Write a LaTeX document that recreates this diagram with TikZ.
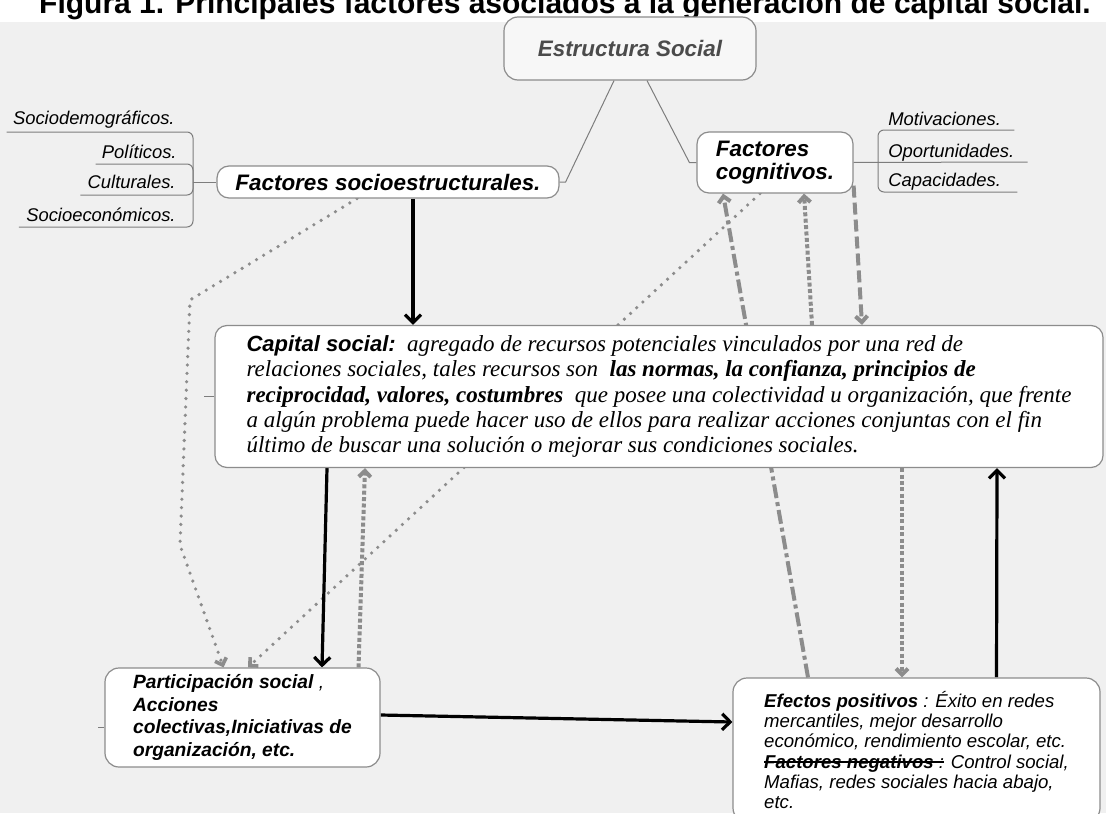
\documentclass[tikz,border=0pt]{standalone}
\usepackage{fontspec}
\setmainfont{Liberation Sans}
\setsansfont{Liberation Sans}
\newfontfamily\csfont{Liberation Serif}
\usetikzlibrary{arrows.meta,calc,positioning,backgrounds}

\definecolor{bgcol}{RGB}{240,240,240}
\definecolor{esfill}{RGB}{247,247,247}
\definecolor{boxline}{RGB}{140,140,140}
\definecolor{linkgray}{RGB}{125,125,125}
\definecolor{arrgray}{RGB}{140,140,140}
\definecolor{estext}{RGB}{75,75,75}

% struck-through text
\newlength\strklen
\newcommand\strk[1]{\settowidth{\strklen}{#1}\rlap{\raisebox{0.3em}{\rule{\strklen}{0.7pt}}}#1}

\begin{document}
\begin{tikzpicture}[x=0.5pt,y=-0.5pt,
		box/.style={draw=boxline, fill=white, rounded corners=6pt, line width=0.6pt, inner sep=0pt},
		head/.style={font=\fontsize{11.2}{11.5}\selectfont\bfseries\itshape},
		item/.style={inner sep=0pt, font=\fontsize{9.2}{11}\selectfont\itshape},
		branch/.style={draw=linkgray, line width=0.5pt},
		blk/.style={-{Straight Barb[length=4pt,width=8pt]}, line width=1.6pt},
		dotg/.style={-{Straight Barb[length=3pt,width=6pt]}, draw=arrgray, line width=1.8pt, line cap=round, dash pattern=on 0pt off 4.2pt},
		sqdot/.style={-{Straight Barb[length=3pt,width=6pt]}, draw=arrgray, line width=2pt, dash pattern=on 2pt off 1.2pt},
		dsh/.style={-{Straight Barb[length=3pt,width=6pt]}, draw=arrgray, line width=2pt, dash pattern=on 6pt off 2.5pt},
		dshdot/.style={-{Straight Barb[length=3pt,width=6pt]}, draw=arrgray, line width=2pt, dash pattern=on 7pt off 2pt on 2pt off 2pt}
		]
		\useasboundingbox (0,0) rectangle (1106,813);
		
		% Title (cut at the top)
		\node[font=\fontsize{15}{17}\selectfont\bfseries, anchor=base, inner sep=0pt] (ttl) at (565,14) {Figura 1. Principales factores asociados a la generación de capital social.};
		
		% Main boxes
		\node[box, head, fill=esfill, text=estext, rounded corners=7pt, minimum width=126pt, minimum height=31.5pt] (es) at (630,48.5) {Estructura Social};
		\node[box, head, minimum width=171pt, minimum height=16pt] (fse) at (388,182) {Factores socioestructurales.};
		\node[box, head, align=left, minimum width=78pt, minimum height=30.5pt] (fc) at (775,162.5) {Factores\\cognitivos.};
		\node[box, align=left, font=\csfont\itshape\fontsize{11.5}{12.7}\selectfont, minimum width=444pt, minimum height=71pt] (cs) at (659,396.5) {{\sffamily\bfseries\fontsize{11}{12.7}\selectfont Capital social:}\ \ agregado de recursos potenciales vinculados por una red de\\
			relaciones sociales, tales recursos son \ \textbf{las normas, la confianza, principios de}\\
			\textbf{reciprocidad, valores, costumbres} \ que posee una colectividad u organización, que frente\\
			a algún problema puede hacer uso de ellos para realizar acciones conjuntas con el fin\\
			último de buscar una solución o mejorar sus condiciones sociales.};
		\node[box, align=left, rounded corners=7pt, font=\fontsize{9.6}{11.2}\selectfont\bfseries\itshape, minimum width=137.5pt, minimum height=49.5pt] (ps) at (242.5,717.5) {Participación social {\mdseries ,}\\Acciones\\colectivas,Iniciativas de\\organización, etc.};
		\node[box, align=left, rounded corners=7pt, font=\fontsize{9.3}{10.1}\selectfont\itshape, minimum width=183.5pt, minimum height=72pt] (ef) at (916.5,750) {\textbf{Efectos positivos} : Éxito en redes\\mercantiles, mejor desarrollo\\económico, rendimiento escolar, etc.\\\strk{\textbf{Factores negativos} :} Control social,\\Mafias, redes sociales hacia abajo,\\etc.};
		
		% Sub-factors
		\node[item, anchor=base east] (sd) at (175,125) {Sociodemográficos.};
		\node[item, anchor=base east] (po) at (177,158) {Políticos.};
		\node[item, anchor=base east] (cu) at (176,188) {Culturales.};
		\node[item, anchor=base east] (so) at (176,221) {Socioeconómicos.};
		\node[item, anchor=base west] (mo) at (888,126) {Motivaciones.};
		\node[item, anchor=base west] (op) at (888,157) {Oportunidades.};
		\node[item, anchor=base west] (ca) at (888,186) {Capacidades.};
		\coordinate (lj) at (193,182);
		\coordinate (rj) at (878,162);
		
		% Branches
		\draw[branch, rounded corners=3pt] ($(sd.base west)+(-6,7)$) -| (lj);
		\draw[branch, rounded corners=3pt] ($(po.base west)+(-6,6)$) -| (lj);
		\draw[branch, rounded corners=3pt] ($(cu.base west)+(-7,7)$) -| (lj);
		\draw[branch, rounded corners=3pt] ($(so.base west)+(-7,6)$) -| (lj);
		\draw[branch] (lj) -- (fse.west);
		\draw[branch, rounded corners=3pt] ($(mo.base east)+(13,4)$) -| (rj);
		\draw[branch, rounded corners=3pt] ($(ca.base east)+(16,6)$) -| (rj);
		\draw[branch] (fc.east) -- ($(op.base east)+(13,5)$);
		\draw[branch] ($(es.south)+(-16,0)$) -- ($(fse.east)+(6,0)$) -- (fse.east);
		\draw[branch] ($(es.south)+(17,0)$) -- ($(fc.west)+(-7,0)$) -- (fc.west);
		\draw[branch] (cs.west) -- ++(-10,0);
		\draw[branch] ($(ps.west)+(0,10)$) -- ++(-6,0);
		
		% Arrows
		\begin{scope}[on background layer]
			\fill[white] (0,0) rectangle (1106,22);
			\fill[bgcol] (0,22) rectangle (1106,813);
			\draw[blk] ($(fse.south)+(25,0)$) -- ($(cs.north)+(-246,0)$);
			\draw[dotg] ($(fse.south)+(-31,0)$) -- (190,300) -- (180,545) -- ($(ps.north)+(-19,0)$);
			\draw[dotg] ($(fc.south)+(-15,0)$) -- ($(ps.north)+(5.5,0)$);
			\draw[blk] ($(cs.south)+(-332,0)$) -- ($(ps.north)+(79.5,0)$);
			\draw[sqdot] ($(ps.north)+(116,0)$) -- ($(cs.south)+(-294,0)$);
			\draw[blk] ($(ps.east)+(0,-2.5)$) -- ($(ef.west)+(0,-28)$);
			\draw[blk] ($(ef.north)+(80,0)$) -- ($(cs.south)+(338,0)$);
			\draw[dshdot] ($(ef.north)+(-108.5,0)$) -- ($(fc.south)+(-52,0)$);
			\draw[sqdot] ($(cs.north)+(153,0)$) -- ($(fc.south)+(29,0)$);
			\draw[dsh] ($(fc.south east)+(0,-8)$) -- ($(cs.north)+(203,0)$);
			\draw[sqdot] ($(cs.south)+(243,0)$) -- ($(ef.north)+(-14.5,0)$);
		\end{scope}
		
	\end{tikzpicture}
\end{document}
